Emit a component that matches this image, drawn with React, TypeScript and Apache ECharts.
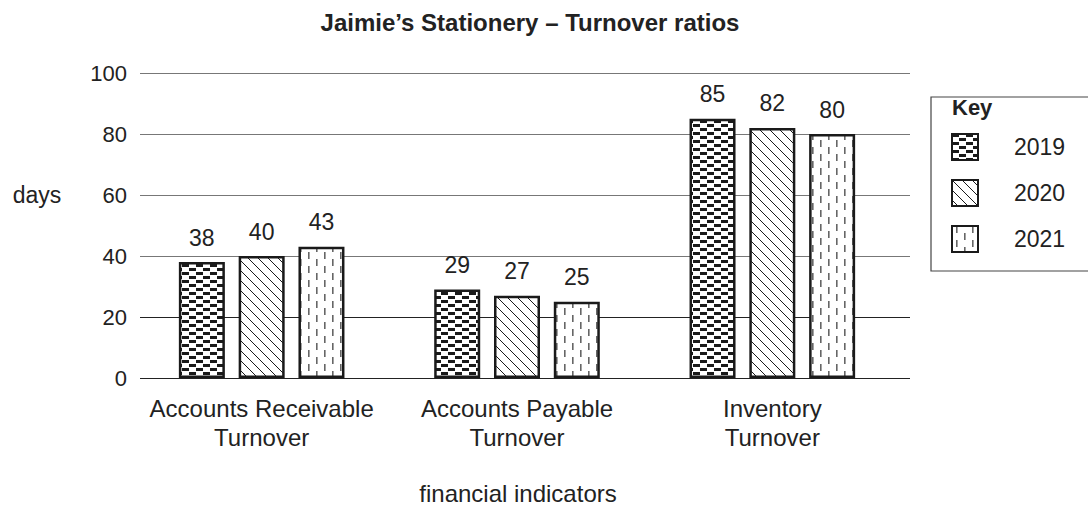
import React, { useEffect, useRef } from "react";
import * as echarts from "echarts";

const categories = ["Accounts Receivable\nTurnover", "Accounts Payable\nTurnover", "Inventory\nTurnover"];
const years = ["2019", "2020", "2021"];
const values2019 = [38, 29, 85];
const values2020 = [40, 27, 82];
const values2021 = [43, 25, 80];
const yTicks = { min: 0, max: 100, interval: 20 };

const FONT = "'Liberation Sans', Arial, Helvetica, sans-serif";

function makeCanvas(w: number, h: number, draw: (ctx: CanvasRenderingContext2D) => void) {
  const c = document.createElement("canvas");
  c.width = w;
  c.height = h;
  const ctx = c.getContext("2d")!;
  ctx.fillStyle = "#ffffff";
  ctx.fillRect(0, 0, w, h);
  draw(ctx);
  return c;
}

function brickPattern() {
  return makeCanvas(14, 8, (ctx) => {
    ctx.fillStyle = "#1a1a1a";
    ctx.fillRect(0, 0, 7, 3);
    ctx.fillRect(7, 4, 7, 3);
  });
}

function diagPattern() {
  return makeCanvas(10, 10, (ctx) => {
    ctx.strokeStyle = "#1a1a1a";
    ctx.lineWidth = 1;
    ctx.beginPath();
    ctx.moveTo(-1, -1);
    ctx.lineTo(11, 11);
    ctx.moveTo(-6, 4);
    ctx.lineTo(6, 16);
    ctx.moveTo(4, -6);
    ctx.lineTo(16, 6);
    ctx.stroke();
  });
}

function dashPattern() {
  return makeCanvas(16, 14, (ctx) => {
    ctx.fillStyle = "#666666";
    ctx.fillRect(4, 0, 1.6, 7);
    ctx.fillRect(12, 7, 1.6, 7);
  });
}

export default function App() {
  const ref = useRef<HTMLDivElement>(null);

  useEffect(() => {
    if (!ref.current) return;
    const chart = echarts.init(ref.current, undefined, { renderer: "svg" });
    const patterns = [brickPattern(), diagPattern(), dashPattern()];
    const seriesData = [values2019, values2020, values2021];

    const option: any = {
      animation: false,
      backgroundColor: "#ffffff",
      textStyle: { fontFamily: FONT },
      title: {
        text: "Jaimie\u2019s Stationery \u2013 Turnover ratios",
        left: 525,
        textAlign: "center",
        top: 5,
        textStyle: { fontFamily: FONT, fontSize: 24, fontWeight: "bold", color: "#222" },
      },
      grid: [
        { left: 140, right: 178, top: 73, bottom: 130 },
        { left: 134, right: 188, top: 73, bottom: 130 },
      ],
      xAxis: [
        {
          type: "category",
          gridIndex: 0,
          data: categories,
          show: false,
        },
        {
          type: "category",
          gridIndex: 1,
          data: categories,
          axisLine: { show: false },
          axisTick: { show: false },
          axisLabel: {
            fontFamily: FONT,
            fontSize: 24,
            lineHeight: 29,
            color: "#222",
            margin: 16,
            interval: 0,
          },
        },
      ],
      yAxis: [
        {
          type: "value",
          gridIndex: 0,
          min: yTicks.min,
          max: yTicks.max,
          interval: yTicks.interval,
          axisLine: { show: false },
          axisTick: { show: false },
          axisLabel: { fontFamily: FONT, fontSize: 22, color: "#222", margin: 13 },
          splitLine: {
            lineStyle: { color: ["#222", "#222", "#777", "#777", "#777", "#777"], width: 1 },
          },
        },
        {
          type: "value",
          gridIndex: 1,
          min: yTicks.min,
          max: yTicks.max,
          interval: yTicks.interval,
          show: false,
          splitLine: { show: false },
        },
      ],
      legend: {
        orient: "vertical",
        left: 946,
        top: 128,
        itemWidth: 26,
        itemHeight: 26,
        itemGap: 18,
        icon: "rect",
        data: years,
        textStyle: { fontFamily: FONT, fontSize: 23, color: "#222", padding: [0, 0, 0, 31] },
        itemStyle: { borderColor: "#1a1a1a", borderWidth: 2 },
      },
      graphic: [
        {
          type: "rect",
          shape: { x: 931, y: 97, width: 170, height: 174 },
          style: { fill: "none", stroke: "#444", lineWidth: 1.2 },
          silent: true,
        },
        {
          type: "text",
          x: 952,
          y: 107,
          style: {
            text: "Key",
            font: `bold 22px ${FONT}`,
            fill: "#222",
            textVerticalAlign: "middle",
          },
        },
        {
          type: "text",
          x: 37,
          y: 195,
          style: {
            text: "days",
            font: `23px ${FONT}`,
            fill: "#222",
            textAlign: "center",
            textVerticalAlign: "middle",
          },
        },
        {
          type: "text",
          x: 518,
          y: 493,
          style: {
            text: "financial indicators",
            font: `24px ${FONT}`,
            fill: "#222",
            textAlign: "center",
            textVerticalAlign: "middle",
          },
        },
      ],
      series: years.map((y, i) => ({
        name: y,
        type: "bar",
        xAxisIndex: 1,
        yAxisIndex: 1,
        data: seriesData[i],
        barWidth: 46,
        barGap: "30%",
        itemStyle: {
          color: { image: patterns[i], repeat: "repeat" },
          borderColor: "#1a1a1a",
          borderWidth: 2.5,
        },
        label: {
          show: true,
          position: "top",
          distance: 13,
          fontFamily: FONT,
          fontSize: 23,
          color: "#222",
        },
      })),
    };
    chart.setOption(option);
    return () => chart.dispose();
  }, []);

  return <div ref={ref} style={{ width: 1088, height: 508, position: "absolute", left: 0, top: 0 }} />;
}
